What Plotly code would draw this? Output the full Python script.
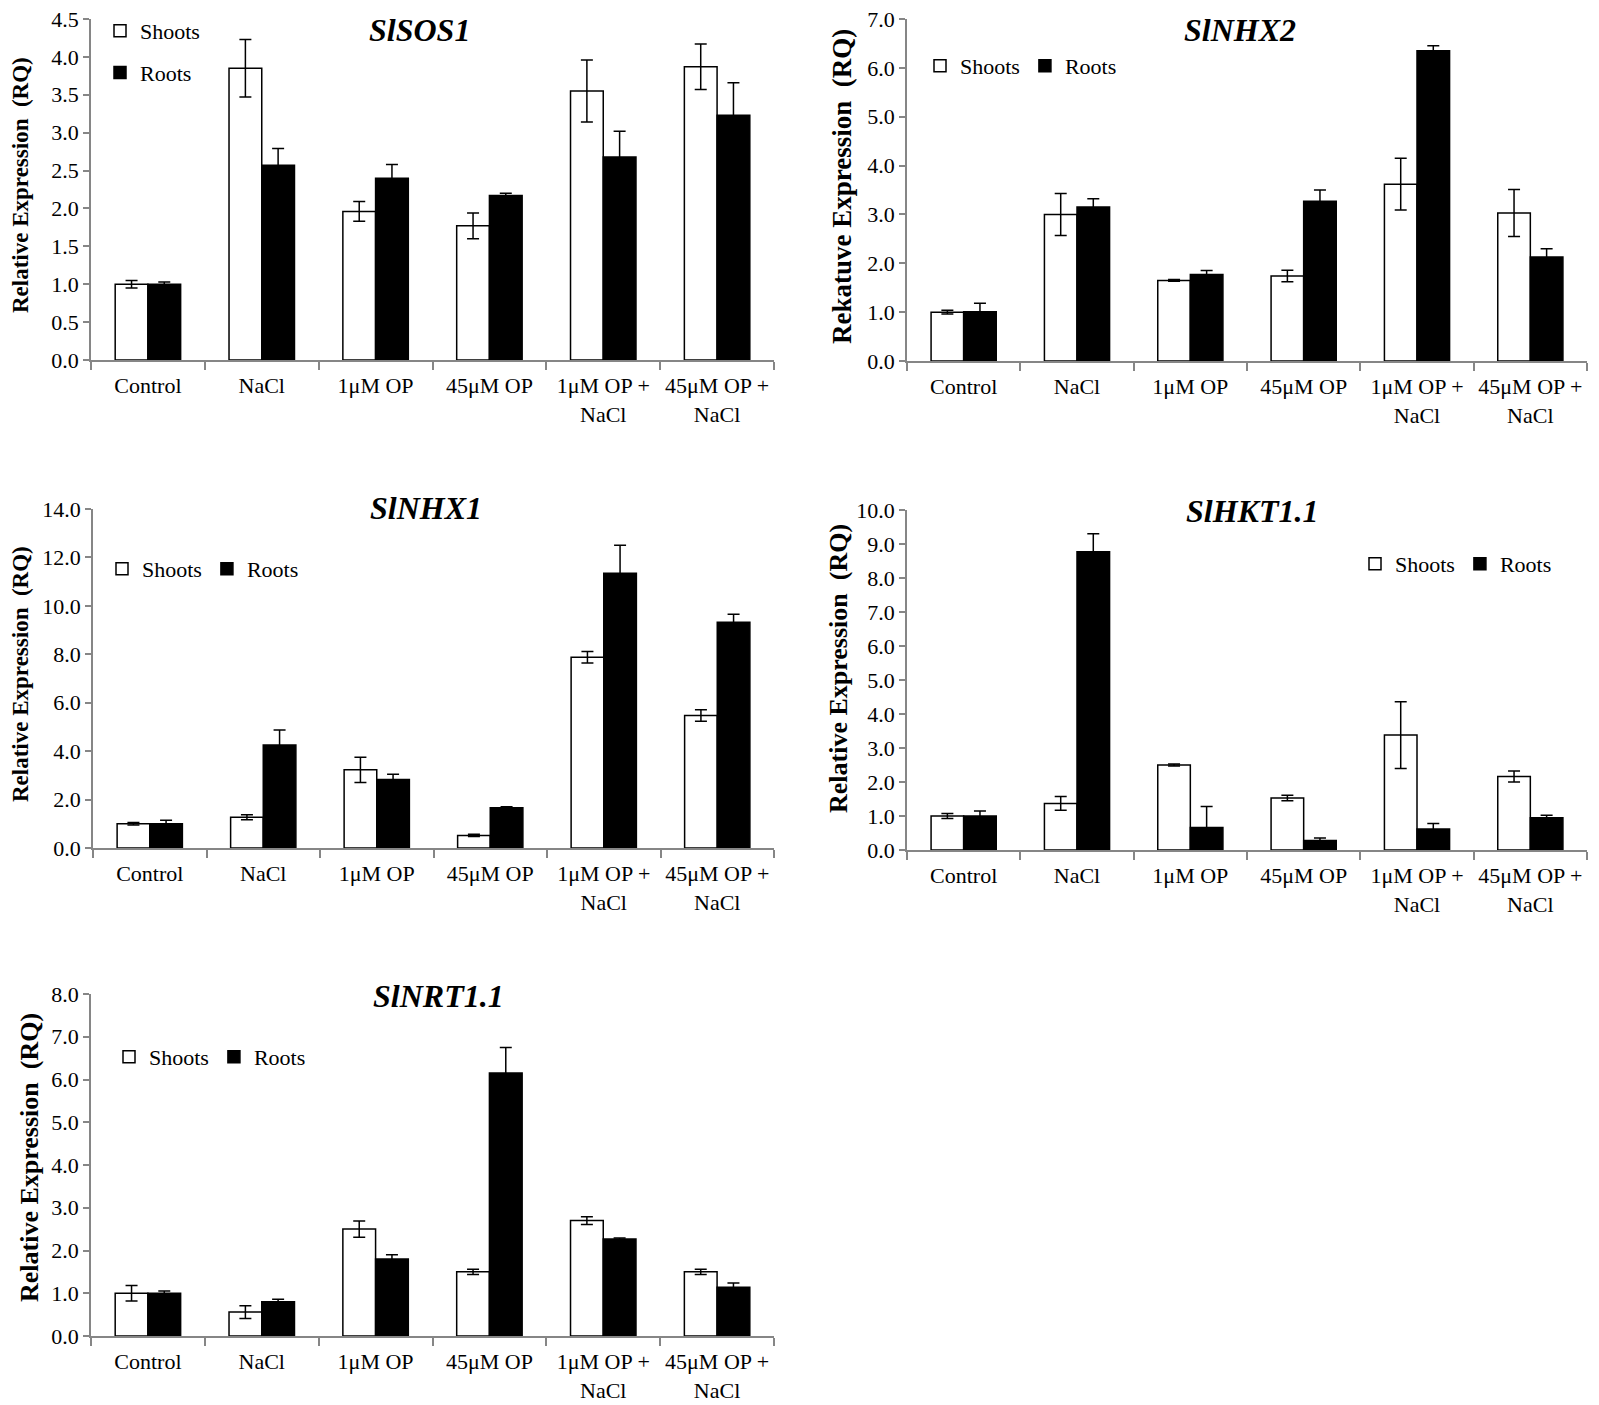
import plotly.graph_objects as go

# the page body has an 8px margin: positions below are window pixels, shifted back by OFF
W, H = 1599, 1405
OFF = 8

categories = ["Control", "NaCl", "1μM OP", "45μM OP", "1μM OP +<br>NaCl", "45μM OP +<br>NaCl"]

# SlSOS1
sos1_shoots = [1.0, 3.85, 1.96, 1.77, 3.55, 3.87]
sos1_shoots_err = [0.05, 0.38, 0.13, 0.17, 0.41, 0.30]
sos1_roots = [1.0, 2.57, 2.40, 2.17, 2.68, 3.23]
sos1_roots_err = [0.03, 0.22, 0.18, 0.03, 0.34, 0.43]

# SlNHX2
nhx2_shoots = [1.0, 3.0, 1.65, 1.74, 3.62, 3.03]
nhx2_shoots_err = [0.04, 0.43, 0.02, 0.12, 0.53, 0.48]
nhx2_roots = [1.01, 3.15, 1.77, 3.27, 6.35, 2.13]
nhx2_roots_err = [0.17, 0.17, 0.08, 0.23, 0.10, 0.17]

# SlNHX1
nhx1_shoots = [1.0, 1.27, 3.23, 0.52, 7.88, 5.47]
nhx1_shoots_err = [0.05, 0.10, 0.52, 0.05, 0.24, 0.24]
nhx1_roots = [1.0, 4.25, 2.83, 1.66, 11.35, 9.32]
nhx1_roots_err = [0.15, 0.62, 0.22, 0.04, 1.15, 0.33]

# SlHKT1.1
hkt_shoots = [1.0, 1.37, 2.50, 1.53, 3.38, 2.16]
hkt_shoots_err = [0.07, 0.20, 0.03, 0.08, 0.98, 0.16]
hkt_roots = [1.0, 8.77, 0.66, 0.28, 0.62, 0.95]
hkt_roots_err = [0.15, 0.53, 0.62, 0.07, 0.16, 0.07]

# SlNRT1.1
nrt_shoots = [1.0, 0.56, 2.50, 1.50, 2.70, 1.50]
nrt_shoots_err = [0.18, 0.15, 0.19, 0.06, 0.09, 0.06]
nrt_roots = [1.0, 0.80, 1.80, 6.15, 2.27, 1.14]
nrt_roots_err = [0.05, 0.06, 0.10, 0.60, 0.02, 0.10]

genes = ["SlSOS1", "SlNHX2", "SlNHX1", "SlHKT1.1", "SlNRT1.1"]
y_titles = ["Relative Expression\u00a0\u00a0(RQ)", "Rekatuve Expression\u00a0\u00a0(RQ)",
            "Relative Expression\u00a0\u00a0(RQ)", "Relative Expression\u00a0\u00a0(RQ)",
            "Relative Expression\u00a0\u00a0(RQ)"]
y_max = [4.5, 7.0, 14.0, 10.0, 8.0]
y_step = [0.5, 1.0, 2.0, 1.0, 1.0]

# positions in window pixels
boxes = [(91, 774, 19, 360), (907, 1587, 19, 361), (93, 774, 509, 848),
         (907, 1587, 510, 850), (91, 774, 994, 1336)]
title_pos = [(420, 30), (1240, 30), (426, 508), (1252, 511), (438, 996)]
ytitle_pos = [(20, 185, 23), (842, 187, 27), (20, 674, 23), (838, 668, 26), (29, 1158, 26)]
legend_pos = [(100, 52, "v"), (920, 66, "h"), (102, 569, "h"), (1355, 564, "h"), (109, 1057, "h")]

shoots = [sos1_shoots, nhx2_shoots, nhx1_shoots, hkt_shoots, nrt_shoots]
shoots_err = [sos1_shoots_err, nhx2_shoots_err, nhx1_shoots_err, hkt_shoots_err, nrt_shoots_err]
roots = [sos1_roots, nhx2_roots, nhx1_roots, hkt_roots, nrt_roots]
roots_err = [sos1_roots_err, nhx2_roots_err, nhx1_roots_err, hkt_roots_err, nrt_roots_err]

FONT = "Liberation Serif, Times New Roman, serif"
AXIS_COL = "#868686"


def px(x):
    return (x - OFF) / W


def py(y):
    return 1 - (y - OFF) / H


fig = go.Figure()
layout = dict(width=W, height=H, margin=dict(l=0, r=0, t=0, b=0, autoexpand=False),
              paper_bgcolor="white", plot_bgcolor="white",
              barmode="group", bargap=0.425, bargroupgap=0,
              font=dict(family=FONT, size=22, color="black"),
              annotations=[], showlegend=True)

for i in range(5):
    n = "" if i == 0 else str(i + 1)
    leg = "legend" if i == 0 else "legend" + str(i + 1)
    err = dict(type="data", thickness=1.5, width=6, color="black")
    fig.add_trace(go.Bar(x=categories, y=shoots[i], name="Shoots", xaxis="x" + n, yaxis="y" + n,
                         marker=dict(color="white", line=dict(color="black", width=1.5)),
                         error_y=dict(array=shoots_err[i], **err),
                         legend=leg, legendgroup="s" + n))
    fig.add_trace(go.Bar(x=categories, y=roots[i], name="Roots", xaxis="x" + n, yaxis="y" + n,
                         marker=dict(color="black", line=dict(color="black", width=1.5)),
                         error_y=dict(array=roots_err[i], **err),
                         legend=leg, legendgroup="r" + n))

    l, r, t, b = boxes[i]
    layout["xaxis" + n] = dict(domain=[px(l), px(r)], anchor="y" + n, showline=True, linecolor=AXIS_COL,
                               linewidth=1.5, ticks="outside", tickson="boundaries", ticklen=8,
                               tickcolor=AXIS_COL, tickwidth=1.5, showgrid=False, zeroline=False,
                               ticklabelstandoff=5, tickangle=0, automargin=False,
                               ticklabeloverflow="allow",
                               tickfont=dict(family=FONT, size=22, color="black"), fixedrange=True)
    layout["yaxis" + n] = dict(domain=[py(b), py(t)], anchor="x" + n, range=[0, y_max[i]],
                               dtick=y_step[i], tick0=0, tickformat=".1f", showline=True,
                               linecolor=AXIS_COL, linewidth=1.5, ticks="outside", ticklen=6,
                               tickcolor=AXIS_COL, tickwidth=1.5, showgrid=False, zeroline=False,
                               automargin=False, ticklabeloverflow="allow",
                               tickfont=dict(family=FONT, size=22, color="black"), fixedrange=True)

    tx, ty = title_pos[i]
    layout["annotations"].append(dict(text="<b><i>" + genes[i] + "</i></b>", x=px(tx), y=py(ty),
                                      xref="paper", yref="paper", xanchor="center", yanchor="middle",
                                      showarrow=False, font=dict(family=FONT, size=32, color="black")))
    yx, yy, ys = ytitle_pos[i]
    layout["annotations"].append(dict(text="<b>" + y_titles[i] + "</b>", x=px(yx), y=py(yy),
                                      xref="paper", yref="paper", xanchor="center", yanchor="middle",
                                      textangle=-90, showarrow=False,
                                      font=dict(family=FONT, size=ys, color="black")))

    lx, ly, lo = legend_pos[i]
    layout[leg] = dict(x=px(lx), y=py(ly), xanchor="left", yanchor="middle", orientation=lo,
                       bgcolor="rgba(0,0,0,0)", font=dict(family=FONT, size=22, color="black"),
                       tracegroupgap=10 if lo == "v" else 0, itemclick=False, itemdoubleclick=False,
                       traceorder="grouped")

fig.update_layout(**layout)
fig.write_html("out.html")
